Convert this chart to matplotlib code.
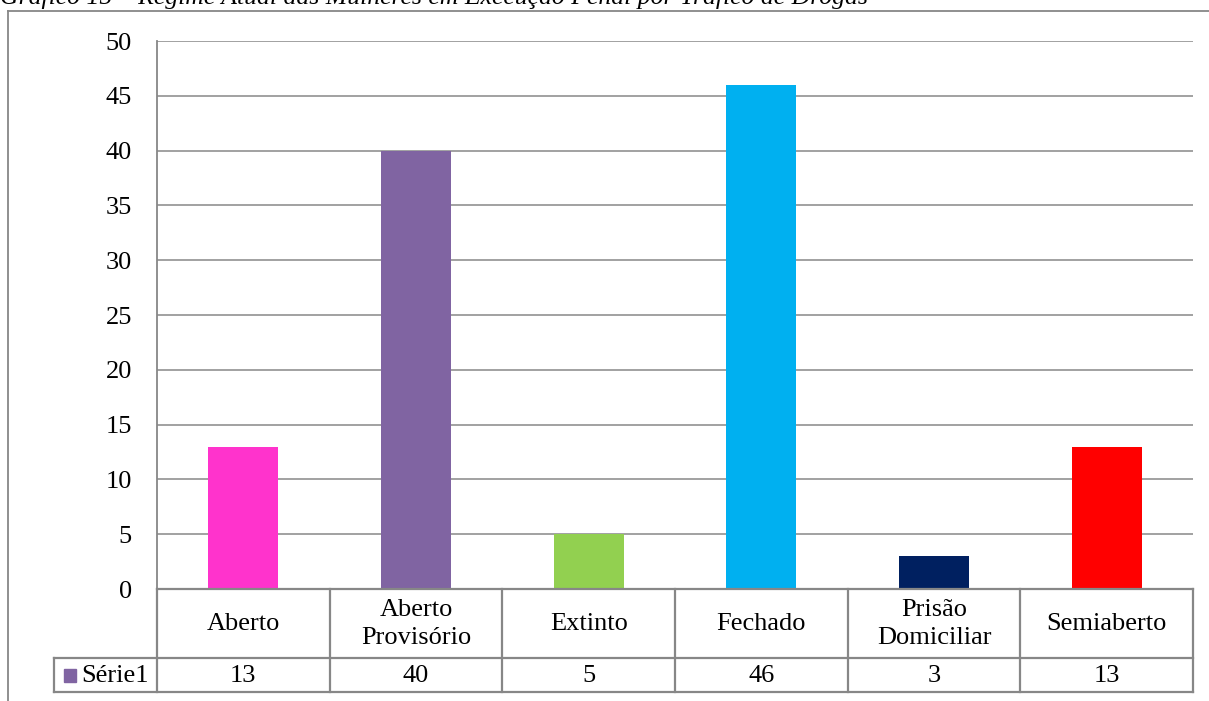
import matplotlib.pyplot as plt
from matplotlib.lines import Line2D
from matplotlib.patches import Rectangle

categorias = ["Aberto", "Aberto\nProvisório", "Extinto", "Fechado", "Prisão\nDomiciliar", "Semiaberto"]
valores = [13, 40, 5, 46, 3, 13]
cores = ["#FF33CC", "#8064A2", "#92D050", "#00B0F0", "#002060", "#FF0000"]
serie = "Série1"
titulo = "Gráfico 15 – Regime Atual das Mulheres em Execução Penal por Tráfico de Drogas"

W, H = 1209, 701
plt.rcParams["font.family"] = ["Liberation Serif", "DejaVu Serif"]
grid_cor = "#878787"
fs = 19

fig = plt.figure(figsize=(W / 100, H / 100), dpi=100)

# moldura externa (topo e esquerda)
fig.add_artist(Line2D([8 / W, 1], [1 - 11 / H, 1 - 11 / H], color=grid_cor, lw=1.3))
fig.add_artist(Line2D([8 / W, 8 / W], [0, 1 - 11 / H], color=grid_cor, lw=1.3))
fig.text(0, 1 - 4 / H, titulo, fontsize=18.5, style="italic", va="baseline", ha="left")

x0, x1 = 157, 1193
ax = fig.add_axes([x0 / W, 1 - 589 / H, (x1 - x0) / W, (589 - 41) / H])
n = len(categorias)
ax.bar(range(n), valores, width=0.405, color=cores, zorder=3)
ax.set_xlim(-0.5, n - 0.5)
ax.set_ylim(0, 50)
ax.set_yticks(range(0, 51, 5))
ax.yaxis.grid(True, color=grid_cor, lw=1.1, zorder=0)
ax.tick_params(axis="y", length=0, pad=18, labelsize=fs)
ax.set_xticks([])
for s in ["top", "right", "bottom"]:
    ax.spines[s].set_visible(False)
ax.spines["left"].set_color(grid_cor)
ax.spines["left"].set_linewidth(1.3)

# tabela de dados abaixo do gráfico
tab = fig.add_axes([x0 / W, 1 - 692 / H, (x1 - x0) / W, (692 - 589) / H])
tab.set_xlim(-0.5, n - 0.5)
tab.set_ylim(103, 0)
tab.axis("off")
px = (x1 - x0) / n
esq = -0.5 - (x0 - 54) / px
lk = dict(color=grid_cor, lw=1.6, clip_on=False)
tab.plot([-0.5, n - 0.5], [0, 0], **lk)
tab.plot([esq, n - 0.5], [69, 69], **lk)
tab.plot([esq, n - 0.5], [103, 103], **lk)
tab.plot([esq, esq], [69, 103], **lk)
for k in range(n + 1):
    tab.plot([k - 0.5, k - 0.5], [0, 103], **lk)
for i, (c, v) in enumerate(zip(categorias, valores)):
    tab.text(i, 35, c, ha="center", va="center", fontsize=fs, linespacing=1.35)
    tab.text(i, 87, str(v), ha="center", va="center", fontsize=fs)

# legenda da série
sx = esq + 10 / px
sw = 12 / px
tab.add_patch(Rectangle((sx, 80), sw, 13, color=cores[1], clip_on=False))
tab.text(sx + sw + 5 / px, 87, serie, ha="left", va="center", fontsize=fs)

fig.savefig("out.png", dpi=100)
